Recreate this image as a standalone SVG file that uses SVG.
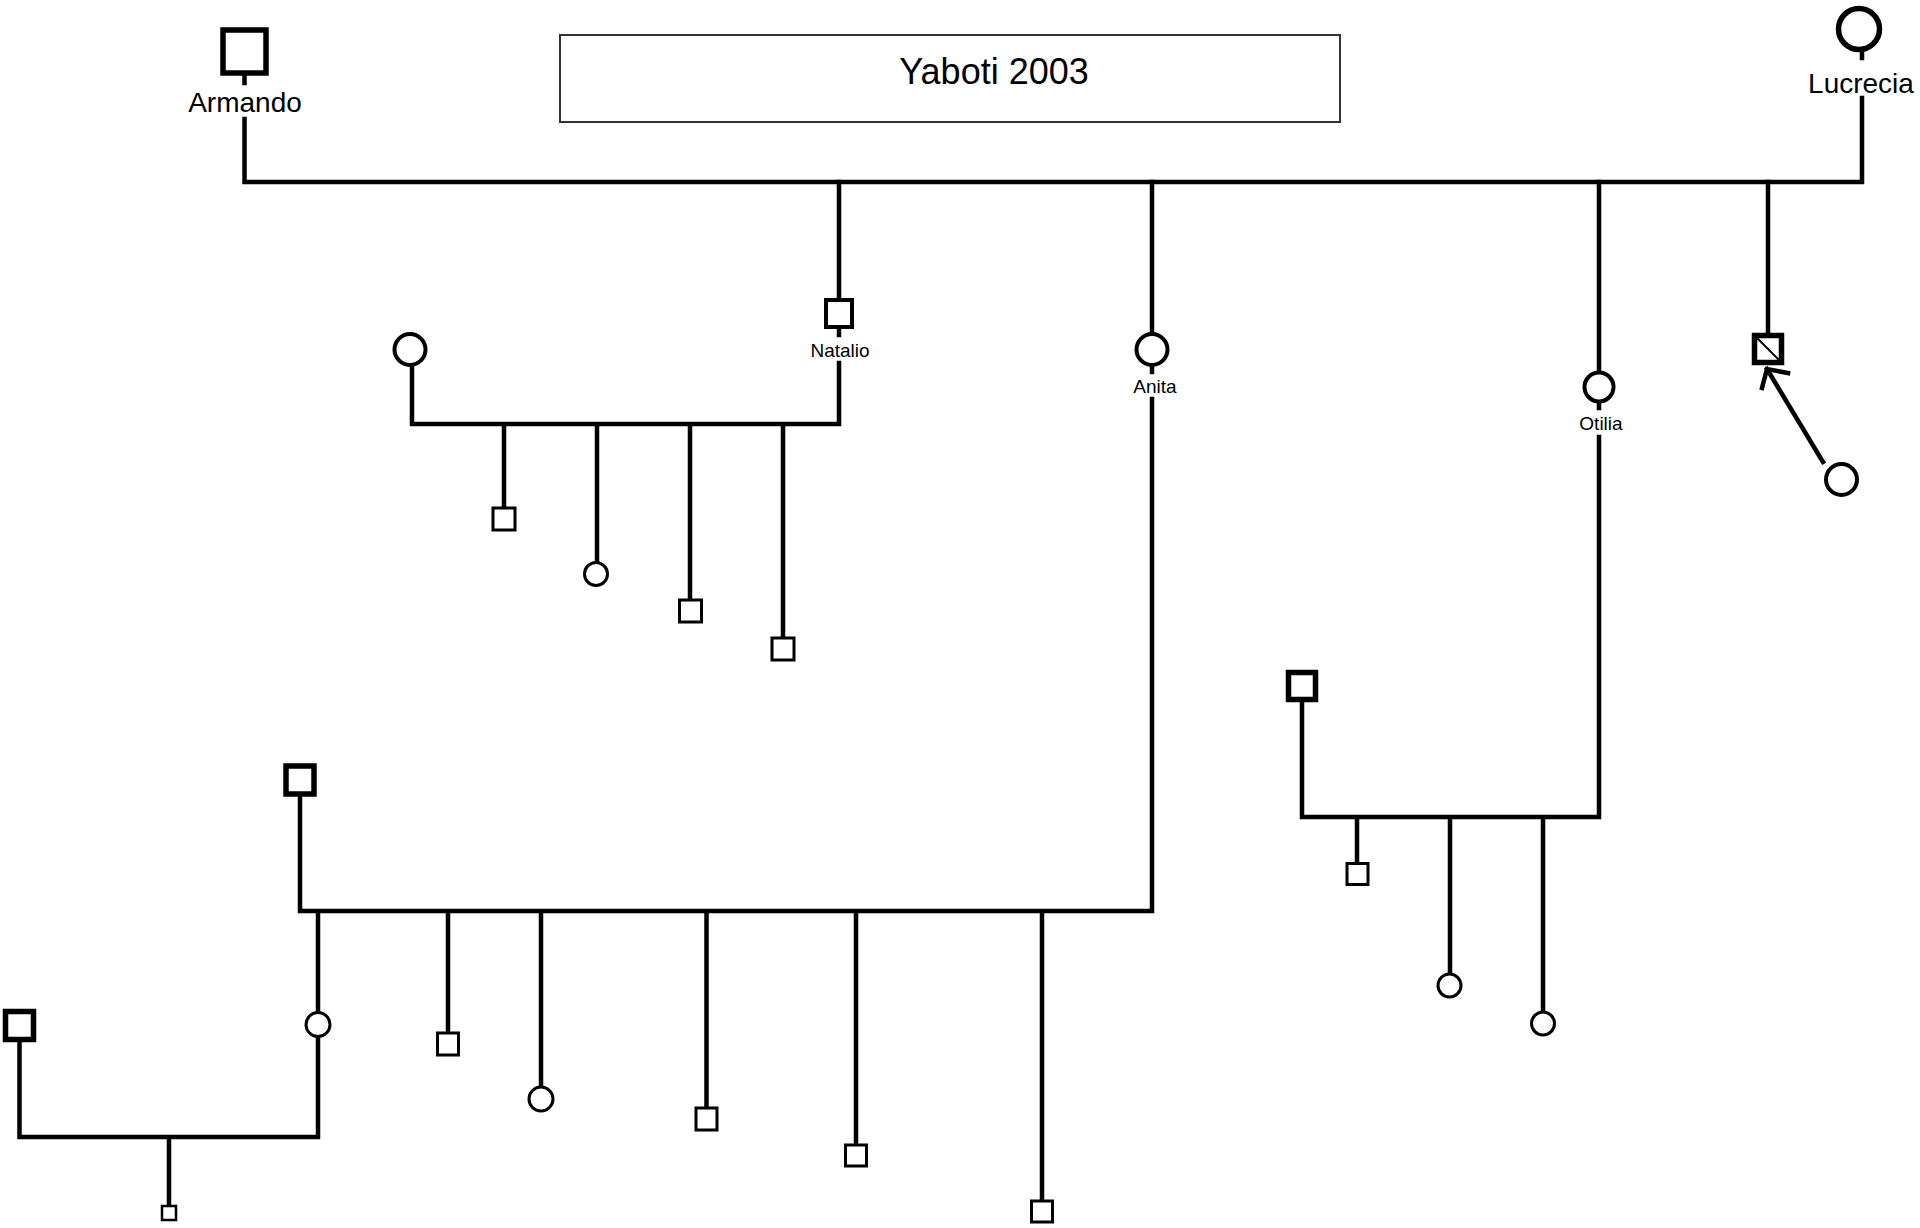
<svg xmlns="http://www.w3.org/2000/svg" width="1920" height="1228" viewBox="0 0 1920 1228">
<style>
.ln{stroke:#000;stroke-width:4.5;fill:none;stroke-linecap:square}
.big{fill:#fff;stroke:#000;stroke-width:5.5}
.mid{fill:#fff;stroke:#000;stroke-width:4}
.sm{fill:#fff;stroke:#000;stroke-width:3}
.lbl{font-family:"Liberation Sans",Arial,sans-serif;fill:#000;text-anchor:middle}
</style>
<rect width="1920" height="1228" fill="#fff"/>
<g id="title">
<rect x="560" y="35" width="780" height="87" fill="#fff" stroke="#333" stroke-width="2"/>
<text x="994" y="84" class="lbl" font-size="36">Yaboti 2003</text>
</g>
<g id="connectors">
<path class="ln" d="M244.5 75V83M244.5 119V182H1862V98M1862 52V58"/>
<path class="ln" d="M839 182V298M839 329V335M839 363V424H412V365M504 424V507M597 424V561M690 424V599M783 424V637"/>
<path class="ln" d="M1152 182V334M1152 365V372M1152 399V911H300V797M318 911V1013M318 1036V1137H19.5V1042M169 1137V1205M448 911V1032M541 911V1087M706.5 911V1107M856 911V1144M1042 911V1200"/>
<path class="ln" d="M1599 182V372M1599 402V408M1599 437V817H1302V702M1357 817V862M1450 817V974M1543 817V1012"/>
<path class="ln" d="M1768 182V333"/>
<path class="ln" stroke-width="5" d="M1823 462L1767 369M1762 388L1767 369L1788 373" stroke-linecap="butt"/>
</g>
<g id="armando">
<rect class="big" x="223" y="30" width="43" height="43"/>
<text x="245" y="112" class="lbl" font-size="28">Armando</text>
</g>
<g id="lucrecia">
<circle class="big" cx="1859" cy="29" r="20.5"/>
<text x="1861" y="93" class="lbl" font-size="28">Lucrecia</text>
</g>
<g id="natalio">
<rect class="mid" x="826" y="300" width="26" height="27"/>
<text x="840" y="357" class="lbl" font-size="19">Natalio</text>
</g>
<g id="natalio_spouse"><circle class="mid" cx="410" cy="349.5" r="15.5"/></g>
<g id="natalio_c1"><rect class="sm" x="493" y="508" width="22" height="22"/></g>
<g id="natalio_c2"><circle class="sm" cx="596" cy="574" r="11.5"/></g>
<g id="natalio_c3"><rect class="sm" x="679.5" y="600" width="22" height="22"/></g>
<g id="natalio_c4"><rect class="sm" x="772" y="638" width="22" height="22"/></g>
<g id="anita">
<circle class="mid" cx="1152" cy="349.5" r="15.5"/>
<text x="1155" y="393" class="lbl" font-size="19">Anita</text>
</g>
<g id="anita_spouse"><rect class="big" x="286" y="766" width="28" height="28"/></g>
<g id="anita_c0"><circle class="sm" cx="318" cy="1024.5" r="12"/></g>
<g id="anita_c0_spouse"><rect class="big" x="5.5" y="1011.5" width="28" height="28"/></g>
<g id="anita_gc"><rect x="162" y="1206" width="14" height="14" fill="#fff" stroke="#000" stroke-width="2.5"/></g>
<g id="anita_c1"><rect class="sm" x="437.5" y="1033" width="21" height="22"/></g>
<g id="anita_c2"><circle class="sm" cx="541" cy="1099" r="12"/></g>
<g id="anita_c3"><rect class="sm" x="696" y="1108" width="21" height="22"/></g>
<g id="anita_c4"><rect class="sm" x="845.5" y="1145" width="21" height="21"/></g>
<g id="anita_c5"><rect class="sm" x="1031.5" y="1201" width="21" height="21"/></g>
<g id="otilia">
<circle class="mid" cx="1599" cy="387" r="14.5"/>
<text x="1601" y="430" class="lbl" font-size="19">Otilia</text>
</g>
<g id="otilia_spouse"><rect class="big" x="1288.5" y="672.5" width="27" height="27"/></g>
<g id="otilia_c1"><rect class="sm" x="1347" y="863.5" width="21" height="21"/></g>
<g id="otilia_c2"><circle class="sm" cx="1449.5" cy="985.5" r="11.5"/></g>
<g id="otilia_c3"><circle class="sm" cx="1543" cy="1023.5" r="11.5"/></g>
<g id="deceased">
<rect class="big" x="1754.5" y="335.5" width="27" height="27"/>
<line x1="1757" y1="338" x2="1779" y2="360" stroke="#000" stroke-width="2"/>
</g>
<g id="partner"><circle class="mid" cx="1841.5" cy="479.5" r="15.5"/></g>
</svg>
